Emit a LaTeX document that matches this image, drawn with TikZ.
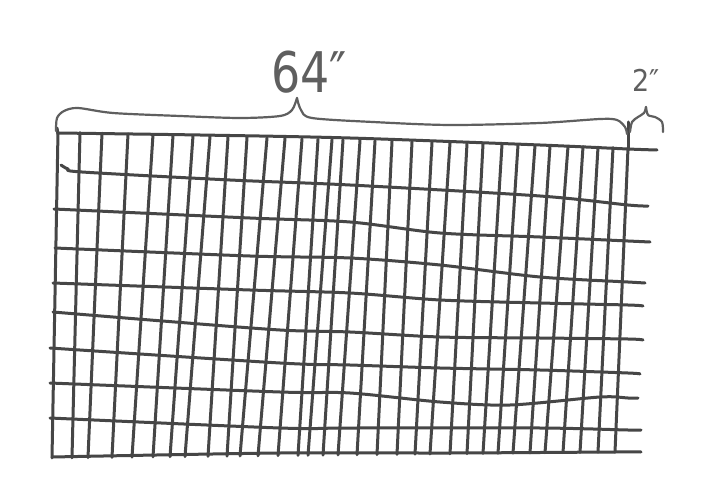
\documentclass[tikz,border=0pt]{standalone}
\usepackage{fontspec}
\newfontfamily\handfont{DejaVu Sans}
\definecolor{pencil}{RGB}{70,70,70}
\definecolor{pencillight}{RGB}{95,95,95}
\begin{document}
\begin{tikzpicture}[x=1pt,y=-1pt,
  gridline/.style={line width=3pt, draw=pencil, line cap=round, line join=round},
  braceline/.style={line width=2.2pt, draw=pencillight, line cap=round, line join=round},
  handlabel/.style={font=\handfont, text=pencillight, inner sep=0pt}]
\useasboundingbox[fill=white] (0,0) rectangle (728,489);

% vertical lines (33 lines = 32 columns of 2")
\foreach \t/\b in {58/52, 80/72, 102/88, 128/112, 153/132, 173/153, 193/170, 210/185,
  228/208, 247/227, 267/240, 285/258, 302/278, 318/298, 332/308, 343/323, 360/338,
  375/357, 392/377, 412/397, 432/415, 450/430, 467/450, 483/467, 502/483, 518/498,
  535/513, 550/530, 568/545, 583/563, 598/580, 613/598, 628/615}{
  \draw[gridline] (\t,{132+0.028*(\t-58)}) -- (\b,{458-0.0106*(\b-50)});
}
% borders reaching up to the braces
\draw[gridline] (57,128) -- (58,134);
\draw[gridline] (628,122) -- (628,150);

% horizontal lines
\draw[gridline] plot[smooth,tension=0.5] coordinates {(58,133) (200,135) (350,138) (540,145) (628,149) (657,150)};
\draw[gridline] plot[smooth,tension=0.5] coordinates {(61,165) (68,169) (82,172) (230,180) (350,185) (540,196) (628,205) (648,206)};
\draw[gridline] plot[smooth,tension=0.5] coordinates {(54,209) (250,218) (350,222) (440,233) (540,237) (628,241) (650,242)};
\draw[gridline] plot[smooth,tension=0.5] coordinates {(55,248) (250,256) (350,258) (440,265) (540,277) (628,282) (645,283)};
\draw[gridline] plot[smooth,tension=0.5] coordinates {(53,283) (250,290) (350,293) (440,300) (540,303) (628,305) (643,306)};
\draw[gridline] plot[smooth,tension=0.5] coordinates {(53,312) (150,320) (280,330) (350,332) (440,337) (540,338) (628,339) (643,340)};
\draw[gridline] plot[smooth,tension=0.5] coordinates {(50,348) (280,363) (350,365) (440,368) (540,370) (628,373) (640,374)};
\draw[gridline] plot[smooth,tension=0.5] coordinates {(50,383) (280,392) (350,393) (440,402) (510,405) (600,397) (628,398) (638,398)};
\draw[gridline] plot[smooth,tension=0.5] coordinates {(50,418) (280,428) (350,428) (540,428) (628,430) (641,430)};
\draw[gridline] plot[smooth,tension=0.5] coordinates {(52,457) (280,453) (450,453) (615,452) (641,452)};

% 64" brace
\draw[braceline] plot[smooth,tension=0.5] coordinates {(56,131) (57,118) (64,111) (78,108) (113,113) (180,116) (240,118) (280,116) (292,110) (297,98)};
\draw[braceline] plot[smooth,tension=0.5] coordinates {(297,98) (301,110) (312,118) (373,122) (450,125) (540,123) (600,119) (617,120) (625,127) (627,134)};
% 2" brace
\draw[braceline] plot[smooth,tension=0.5] coordinates {(630,132) (632,122) (638,117) (644,113) (646,107)};
\draw[braceline] plot[smooth,tension=0.5] coordinates {(646,107) (648,115) (655,117) (662,122) (663,132)};

% labels
\node[handlabel, anchor=base west, xscale=0.82] (width) at (271,93) {\fontsize{56}{56}\selectfont 64″};
\node[handlabel, anchor=base west, xscale=0.9] (edge) at (632,92) {\fontsize{30}{30}\selectfont 2″};
\end{tikzpicture}
\end{document}
